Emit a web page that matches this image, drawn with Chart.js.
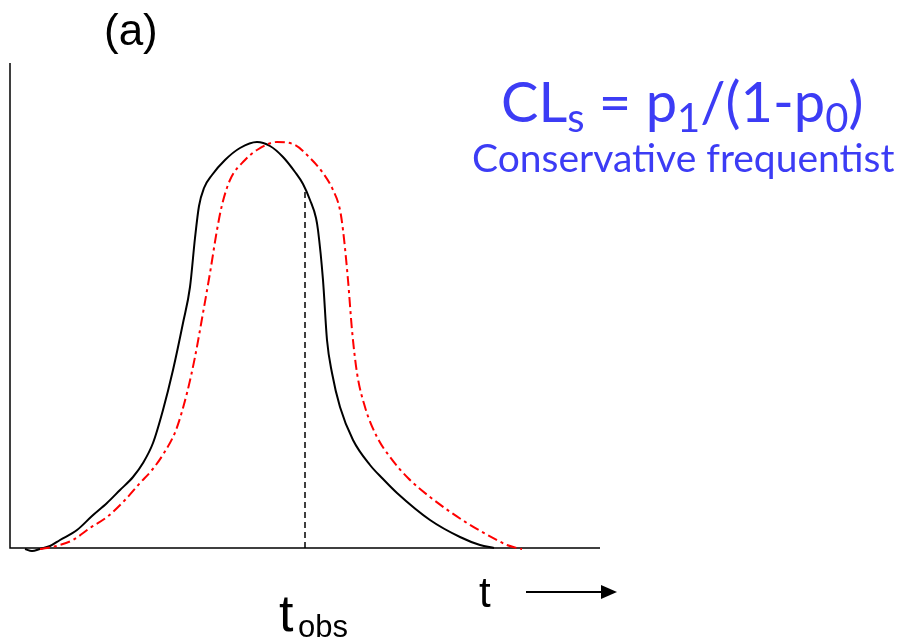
<!DOCTYPE html>
<html>
<head>
<meta charset="utf-8">
<script src="https://cdn.jsdelivr.net/npm/chart.js@4/dist/chart.umd.min.js"></script>
<style>
  html, body { margin: 0; padding: 0; background: #fff; }
  #wrap { position: relative; width: 903px; height: 643px; overflow: hidden; }
  .lbl { position: absolute; line-height: 1; white-space: nowrap; }
  .arial { font-family: "Liberation Sans", Arial, sans-serif; color: #000; }
  .blue { font-family: Lato, "Noto Sans", sans-serif; color: #3c3cf5; }
  .sub { font-size: 40px; position: relative; top: 10px; }
</style>
</head>
<body>
<div id="wrap">
  <canvas id="c" width="903" height="643"></canvas>
  <div class="lbl arial" style="left:104px; top:8px; font-size:44px;">(a)</div>
  <div class="lbl blue" style="left:501px; top:73px; font-size:56px;">CL<span class="sub">s</span> = p<span class="sub">1</span>/(1-p<span class="sub">0</span>)</div>
  <div class="lbl blue" style="left:472px; top:138px; font-size:39px;">Conservative frequentist</div>
  <div class="lbl arial" style="left:479px; top:572px; font-size:42px;">t</div>
  <div class="lbl arial" style="left:279px; top:587px; font-size:52px;">t</div>
  <div class="lbl arial" style="left:298px; top:611px; font-size:31px;">obs</div>
</div>
<script>
// ---- data (t along the axis, f = height above axis) ----
const blackT = [15, 22, 30, 40, 50, 67, 82, 97, 110, 123, 133, 143, 153, 163, 173, 180, 185, 189, 194, 202,
  215, 230, 247, 260, 273, 285, 293, 300, 306, 308, 313, 317, 322, 330, 343, 360, 372, 387, 420, 450, 470, 484];
const blackF = [-1, -3, -1, 2, 8, 18, 32, 45, 58, 71, 85, 105, 138, 178, 225, 261, 310, 342, 360, 373,
  388, 400, 406, 402, 391, 376, 364, 348, 330, 318, 268, 208, 175, 141, 108, 83, 70, 55, 28, 11, 3, 0];

const redT = [30, 37, 50, 63, 80, 97, 115, 130, 142, 154, 166, 177, 185, 193, 200, 207, 212, 220, 235, 247,
  267, 285, 300, 313, 323, 330, 333, 338, 342, 347, 355, 367, 380, 398, 420, 457, 487, 497, 507, 512];
const redF = [-1, 0, 3, 8, 20, 31, 48, 65, 78, 95, 118, 155, 191, 235, 275, 318, 343, 368, 388, 398,
  406, 403, 390, 375, 358, 338, 318, 268, 218, 175, 141, 111, 91, 70, 51, 25, 8, 3, 0, -1];

const tObs = 295;
const tObsTop = 360;

const xMax = 590;
const yMax = 485;

const toPts = (xs, ys) => xs.map((x, i) => ({ x, y: ys[i] }));

// Plugin: plain axes + arrow under the t label
const AxesPlugin = {
  id: 'axes',
  beforeDatasetsDraw(chart) {
    const { ctx, chartArea: a } = chart;
    ctx.save();
    ctx.strokeStyle = '#000';
    ctx.lineWidth = 1.5;
    ctx.beginPath();
    ctx.moveTo(a.left, a.top);
    ctx.lineTo(a.left, a.bottom);
    ctx.lineTo(a.right, a.bottom);
    ctx.stroke();

    // arrow
    const y = a.bottom + 44;
    const x0 = a.right - 74, x1 = a.right + 17;
    ctx.lineWidth = 2;
    ctx.beginPath();
    ctx.moveTo(x0, y);
    ctx.lineTo(x1 - 14, y);
    ctx.stroke();
    ctx.fillStyle = '#000';
    ctx.beginPath();
    ctx.moveTo(x1, y);
    ctx.lineTo(x1 - 16, y - 7);
    ctx.lineTo(x1 - 16, y + 7);
    ctx.closePath();
    ctx.fill();
    ctx.restore();
  }
};

new Chart(document.getElementById('c'), {
  type: 'scatter',
  plugins: [AxesPlugin],
  data: {
    datasets: [
      {
        data: toPts([tObs, tObs], [0, tObsTop]),
        showLine: true, borderColor: '#000', borderWidth: 1.5, borderDash: [6, 4],
        pointRadius: 0, clip: false
      },
      {
        data: toPts(redT, redF),
        showLine: true, borderColor: '#ff0000', borderWidth: 2, borderDash: [10, 4, 3, 4],
        pointRadius: 0, cubicInterpolationMode: 'monotone', clip: false
      },
      {
        data: toPts(blackT, blackF),
        showLine: true, borderColor: '#000', borderWidth: 2,
        pointRadius: 0, cubicInterpolationMode: 'monotone', clip: false
      }
    ]
  },
  options: {
    responsive: false,
    animation: false,
    layout: { padding: { left: 10, top: 63, right: 303, bottom: 95 } },
    plugins: { legend: { display: false }, tooltip: { enabled: false } },
    scales: {
      x: { type: 'linear', min: 0, max: xMax, display: false },
      y: { type: 'linear', min: 0, max: yMax, display: false }
    }
  }
});
</script>
</body>
</html>
